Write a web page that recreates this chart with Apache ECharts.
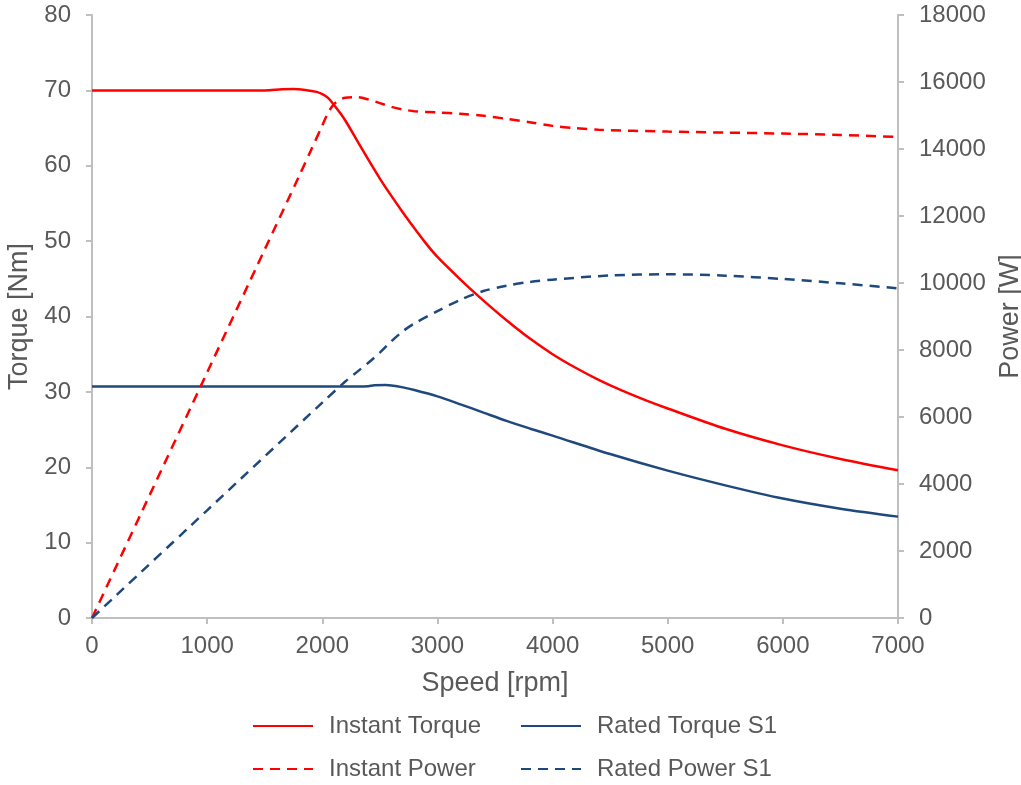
<!DOCTYPE html>
<html>
<head>
<meta charset="utf-8">
<script src="https://cdn.jsdelivr.net/npm/echarts@6/dist/echarts.min.js"></script>
<style>html,body{margin:0;padding:0;background:#fff;}#c{width:1021px;height:785px;}</style>
</head>
<body>
<div id="c"></div>
<script>
// Speed [rpm] / value pairs
const instantTorque = [
  [0,70.0],[500,70.0],[1000,70.0],[1500,70.0],[1650,70.14],[1750,70.18],[1850,70.05],[1950,69.8],
  [2000,69.5],[2050,69.0],[2100,68.1],[2150,67.1],[2200,66.0],[2300,63.4],[2400,60.8],[2500,58.3],
  [2600,56.0],[2700,53.8],[2800,51.7],[2900,49.7],[3000,47.9],[3200,44.9],[3400,42.1],[3600,39.5],
  [3800,37.1],[4000,35.0],[4200,33.2],[4400,31.6],[4600,30.2],[4800,28.95],[5000,27.8],[5500,25.1],
  [6000,22.9],[6500,21.1],[7000,19.6]
];
const ratedTorque = [
  [0,30.7],[1000,30.7],[2000,30.7],[2300,30.7],[2400,30.75],[2450,30.88],[2550,30.9],[2600,30.85],
  [2700,30.6],[2800,30.25],[3000,29.4],[3200,28.35],[3400,27.25],[3600,26.15],[3800,25.15],[4000,24.2],
  [4500,21.75],[5000,19.55],[5500,17.6],[6000,15.85],[6500,14.5],[7000,13.45]
];
const instantPower = [
  [0,0],[500,3665],[1000,7330],[1500,11000],[1800,13200],[1900,13950],[2000,14700],[2050,15080],
  [2100,15330],[2150,15470],[2200,15530],[2300,15550],[2400,15480],[2500,15370],[2600,15260],[2700,15180],
  [2800,15130],[3000,15090],[3200,15050],[3400,14990],[3600,14900],[3800,14800],[4000,14690],
  [4200,14620],[4400,14575],[5000,14520],[5500,14490],[6000,14460],[6500,14420],[7000,14360]
];
const ratedPower = [
  [0,0],[1000,3215],[2000,6430],[2200,7060],[2300,7340],[2400,7620],[2500,7920],[2600,8260],
  [2700,8560],[2800,8790],[3000,9160],[3200,9500],[3400,9760],[3600,9920],[3800,10030],[4000,10100],
  [4500,10225],[5000,10260],[5500,10220],[6000,10120],[6500,9990],[7000,9840]
];
const seriesNames = ['Instant Torque','Rated Torque S1','Instant Power','Rated Power S1'];

const FONT = "'Liberation Sans', Arial, sans-serif";
const TXT = '#595959';
const AX = '#bfbfbf';
const RED = '#ff0000';
const BLUE = '#1f497d';

const plain = v => String(v);
const axisCommon = {
  axisLine: {show: true, lineStyle: {color: AX, width: 2}},
  axisTick: {show: true, inside: false, length: 6, lineStyle: {color: AX, width: 2}},
  splitLine: {show: false},
  axisLabel: {color: TXT, fontSize: 24, fontFamily: FONT, formatter: plain},
  nameTextStyle: {color: TXT, fontSize: 27, fontFamily: FONT}
};

const legendCommon = {
  orient: 'vertical', top: 714, padding: 0,
  itemWidth: 60, itemHeight: 14, itemGap: 19,
  itemStyle: {opacity: 0, borderWidth: 0},
  textStyle: {color: TXT, fontSize: 24, fontFamily: FONT, padding: [0, 0, 0, 11]}
};

const chart = echarts.init(document.getElementById('c'), null, {renderer: 'canvas'});
chart.setOption({
  animation: false,
  backgroundColor: '#fff',
  grid: {left: 92, right: 123, top: 15, bottom: 167, outerBoundsMode: 'none', containLabel: false},
  xAxis: Object.assign({}, axisCommon, {
    type: 'value', min: 0, max: 7000, interval: 1000,
    name: 'Speed [rpm]', nameLocation: 'middle', nameGap: 52,
    axisLabel: Object.assign({}, axisCommon.axisLabel, {margin: 16})
  }),
  yAxis: [
    Object.assign({}, axisCommon, {
      type: 'value', min: 0, max: 80, interval: 10, position: 'left',
      name: 'Torque [Nm]', nameLocation: 'middle', nameGap: 50, nameRotate: 90,
      axisLabel: Object.assign({}, axisCommon.axisLabel, {margin: 21})
    }),
    Object.assign({}, axisCommon, {
      type: 'value', min: 0, max: 18000, interval: 2000, position: 'right',
      name: 'Power [W]', nameLocation: 'middle', nameGap: 85, nameRotate: 90,
      axisLabel: Object.assign({}, axisCommon.axisLabel, {margin: 21})
    })
  ],
  legend: [
    Object.assign({}, legendCommon, {id: 'lg1', left: 252, data: [seriesNames[0], seriesNames[2]]}),
    Object.assign({}, legendCommon, {id: 'lg2', left: 520, data: [seriesNames[1], seriesNames[3]]})
  ],
  series: [
    {name: seriesNames[0], type: 'line', yAxisIndex: 0, data: instantTorque, symbol: 'none', smooth: 0.3,
     lineStyle: {color: RED, width: 2.5}, itemStyle: {color: RED}},
    {name: seriesNames[1], type: 'line', yAxisIndex: 0, data: ratedTorque, symbol: 'none', smooth: 0.3,
     lineStyle: {color: BLUE, width: 2.5}, itemStyle: {color: BLUE}},
    {name: seriesNames[2], type: 'line', yAxisIndex: 1, data: instantPower, symbol: 'none', smooth: 0.3,
     lineStyle: {color: RED, width: 2.5, type: [10, 7]}, itemStyle: {color: RED}},
    {name: seriesNames[3], type: 'line', yAxisIndex: 1, data: ratedPower, symbol: 'none', smooth: 0.3,
     lineStyle: {color: BLUE, width: 2.5, type: [10, 7]}, itemStyle: {color: BLUE}}
  ]
});
</script>
</body>
</html>
